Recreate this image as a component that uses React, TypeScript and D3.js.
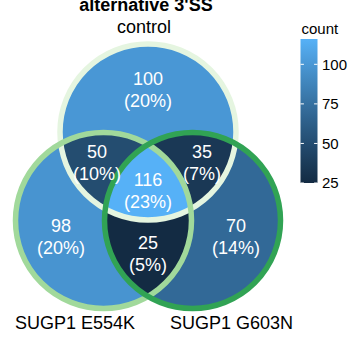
import React from "react";
import * as d3 from "d3";

// Set names (drawn around the diagram) and the seven Venn region counts
const setNames = ["control", "SUGP1 E554K", "SUGP1 G603N"];
const regionKeys = ["100", "010", "001", "110", "101", "011", "111"];
const regionCounts = [100, 98, 70, 50, 35, 25, 116];
const regionPercents = ["20%", "20%", "14%", "10%", "7%", "5%", "23%"];
const legendTicks = [25, 50, 75, 100];
const chartTitle = "alternative 3'SS";
const legendTitle = "count";

const W = 350;
const H = 337;
const FONT = "'Liberation Sans', Arial, Helvetica, sans-serif";

// circle layout in pixel space
const R = 88;
const centers: [number, number][] = [
  [148, 132],
  [103.5, 220.5],
  [192.5, 220.5],
];
const strokeColors = ["#E5F5E0", "#A1D99B", "#31A354"];
const strokeW = 5.5;

// label anchor (baseline of the count line) for each region, same order as regionKeys
const labelAnchors: [number, number][] = [
  [148, 85],
  [61, 232],
  [236, 232],
  [97, 158],
  [202, 158],
  [148, 249],
  [148, 186],
];
const lineGap = 22;

export default function App() {
  const extent = d3.extent(regionCounts) as [number, number];
  const color = d3
    .scaleLinear<string>()
    .domain(extent)
    .range(["#132B43", "#56B1F7"])
    .interpolate(d3.interpolateLab);

  const legendY = d3.scaleLinear().domain(extent).range([183, 39]);
  const barX = 300.5;
  const barW = 17;

  const countOf = (key: string) => regionCounts[regionKeys.indexOf(key)];

  const circle = (i: number, props: any = {}) => (
    <circle cx={centers[i][0]} cy={centers[i][1]} r={R} {...props} />
  );

  const gradStops = d3.range(0, 1.0001, 0.05).map((t) => ({
    offset: t,
    c: color(extent[0] + t * (extent[1] - extent[0])),
  }));

  return (
    <div style={{ position: "absolute", left: 0, top: 0 }}>
      <svg width={W} height={H} style={{ display: "block" }} fontFamily={FONT}>
        <defs>
          {[0, 1, 2].map((i) => (
            <clipPath id={`clip${i}`} key={i}>
              {circle(i)}
            </clipPath>
          ))}
          <linearGradient id="legendGrad" x1="0" y1="1" x2="0" y2="0">
            {gradStops.map((s, i) => (
              <stop key={i} offset={s.offset} stopColor={s.c} />
            ))}
          </linearGradient>
        </defs>

        {/* single-set regions */}
        {circle(0, { fill: color(countOf("100")) })}
        {circle(1, { fill: color(countOf("010")) })}
        {circle(2, { fill: color(countOf("001")) })}
        {/* pairwise overlaps */}
        <g clipPath="url(#clip0)">{circle(1, { fill: color(countOf("110")) })}</g>
        <g clipPath="url(#clip0)">{circle(2, { fill: color(countOf("101")) })}</g>
        <g clipPath="url(#clip1)">{circle(2, { fill: color(countOf("011")) })}</g>
        {/* triple overlap */}
        <g clipPath="url(#clip0)">
          <g clipPath="url(#clip1)">{circle(2, { fill: color(countOf("111")) })}</g>
        </g>

        {/* set outlines */}
        {[0, 1, 2].map((i) => (
          <g key={i}>
            {circle(i, { fill: "none", stroke: strokeColors[i], strokeWidth: strokeW })}
          </g>
        ))}

        {/* region labels */}
        {regionKeys.map((k, i) => (
          <g key={k} fill="#ffffff" fontSize={18} textAnchor="middle">
            <text x={labelAnchors[i][0]} y={labelAnchors[i][1]}>
              {regionCounts[i]}
            </text>
            <text x={labelAnchors[i][0]} y={labelAnchors[i][1] + lineGap}>
              ({regionPercents[i]})
            </text>
          </g>
        ))}

        {/* set names */}
        <g fontSize={18} fill="#000" textAnchor="middle">
          <text x={144} y={33}>{setNames[0]}</text>
          <text x={75} y={329}>{setNames[1]}</text>
          <text x={231.5} y={329}>{setNames[2]}</text>
        </g>

        {/* title */}
        <text x={146} y={11} fontSize={18} fontWeight="bold" textAnchor="middle" fill="#000">
          {chartTitle}
        </text>

        {/* legend */}
        <text x={barX + 1} y={34} fontSize={15} fill="#000">
          {legendTitle}
        </text>
        <rect
          x={barX}
          y={legendY(extent[1])}
          width={barW}
          height={legendY(extent[0]) - legendY(extent[1])}
          fill="url(#legendGrad)"
        />
        {legendTicks.map((t) => (
          <g key={t}>
            <line x1={barX} x2={barX + 3.4} y1={legendY(t)} y2={legendY(t)} stroke="#fff" strokeWidth={1} />
            <line x1={barX + barW - 3.4} x2={barX + barW} y1={legendY(t)} y2={legendY(t)} stroke="#fff" strokeWidth={1} />
            <text x={barX + barW + 4.5} y={legendY(t)} dy="0.36em" fontSize={15} fill="#000">
              {t}
            </text>
          </g>
        ))}
      </svg>
    </div>
  );
}
